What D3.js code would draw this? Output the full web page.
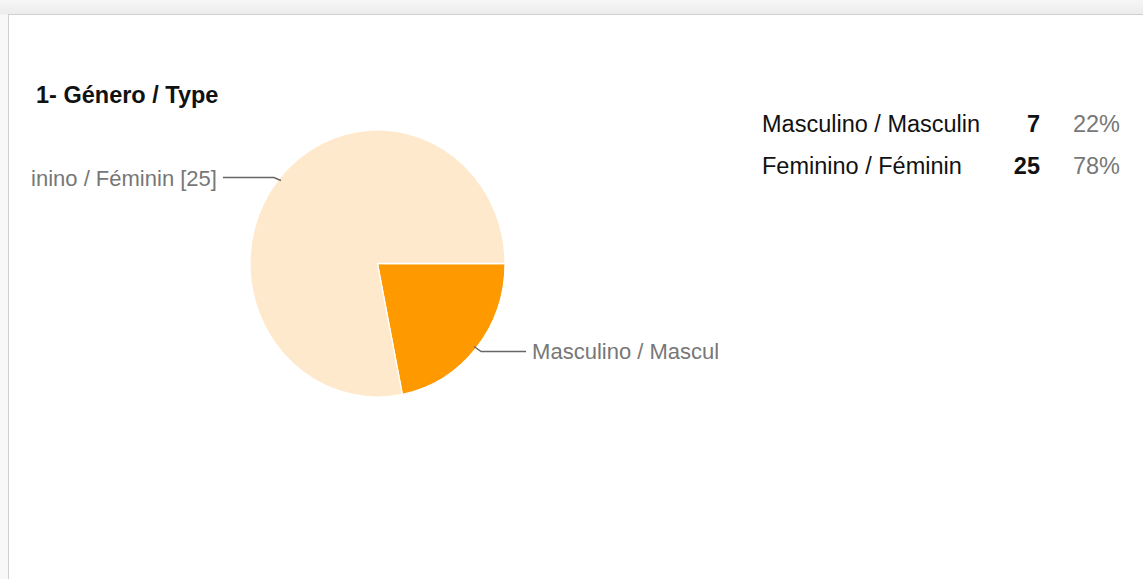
<!DOCTYPE html>
<html>
<head>
<meta charset="utf-8">
<script src="https://cdn.jsdelivr.net/npm/d3@7"></script>
<style>
  html, body { margin: 0; padding: 0; }
  body {
    width: 1143px; height: 579px; overflow: hidden;
    background: linear-gradient(#f6f6f6, #ececec 14px, #f8f8f8 15px, #f8f8f8);
    font-family: "Liberation Sans", Arial, sans-serif;
  }
  #panel {
    position: absolute; left: 8px; top: 14px; width: 1140px; height: 570px;
    background: #fff; border-left: 1px solid #cfcfcf; border-top: 1px solid #cfcfcf;
  }
  svg { position: absolute; left: 0; top: 0; }
</style>
</head>
<body>
<div id="panel"></div>
<svg id="chart" width="1143" height="579"></svg>
<script>
const chartTitle = "1- Género / Type";
const categories = ["Masculino / Masculin", "Feminino / Féminin"];
const counts = [7, 25];
const colors = ["#ff9900", "#ffe9cc"];

document.addEventListener('DOMContentLoaded', function(){
    drawChart();
});

function drawChart() {
    const svg = d3.select("#chart");
    const total = d3.sum(counts);
    const data = categories.map(function(c, i) { return {name: c, value: counts[i], color: colors[i]}; });

    // pie geometry (picture is slightly taller than wide)
    const cx = 377.5, cy = 263.5, rx = 127.5, ry = 133.5;

    svg.append('defs').append('clipPath').attr('id', 'plotClip')
        .append('rect').attr('x', 31).attr('y', 20).attr('width', 687).attr('height', 540);

    svg.append('text')
        .attr('x', 36).attr('y', 103)
        .style('font-size', '23.5px').style('font-weight', 'bold').attr('fill', '#111')
        .text(chartTitle);

    const pie = d3.pie().value(d => d.value).sort(null)
        .startAngle(Math.PI / 2).endAngle(Math.PI / 2 + 2 * Math.PI);
    const arcs = pie(data);
    const arc = d3.arc().innerRadius(0).outerRadius(rx);

    const g = svg.append('g').attr('transform', 'translate(' + cx + ',' + cy + ') scale(1,' + (ry / rx) + ')');
    g.selectAll('path').data(arcs).enter().append('path')
        .attr('d', arc)
        .attr('fill', d => d.data.color)
        .attr('stroke', '#fff').attr('stroke-width', 1.2);

    // leader lines + labels (clipped to the chart area like the original)
    const lab = svg.append('g').attr('clip-path', 'url(#plotClip)');
    arcs.forEach(function(d) {
        const a = (d.startAngle + d.endAngle) / 2;
        const ax = cx + Math.sin(a) * rx * 0.98;
        const ay = cy - Math.cos(a) * ry * 0.98;
        const dir = Math.sin(a) >= 0 ? 1 : -1;
        const ly = ay + (Math.cos(a) > 0 ? -3 : 5);
        const bx = ax + dir * 7;
        const endx = ax + dir * (dir < 0 ? 58 : 52);
        lab.append('path')
            .attr('d', 'M' + ax + ',' + ay + 'L' + bx + ',' + ly + 'L' + endx + ',' + ly)
            .attr('fill', 'none').attr('stroke', '#666').attr('stroke-width', 1.4);
        lab.append('text')
            .attr('x', endx + dir * 6).attr('y', ly + 8)
            .attr('text-anchor', dir > 0 ? 'start' : 'end')
            .style('font-size', '22px').attr('fill', '#777')
            .text(d.data.name + ' [' + d.data.value + ']');
    });

    // legend table
    const rows = svg.append('g').selectAll('g').data(data).enter().append('g')
        .attr('transform', (d, i) => 'translate(0,' + (132 + i * 42) + ')');
    rows.append('text').attr('x', 762).style('font-size', '23.5px').attr('fill', '#111')
        .text(d => d.name);
    rows.append('text').attr('x', 1040).attr('text-anchor', 'end')
        .style('font-size', '23.5px').style('font-weight', 'bold').attr('fill', '#111')
        .text(d => d.value);
    rows.append('text').attr('x', 1120).attr('text-anchor', 'end')
        .style('font-size', '23.5px').attr('fill', '#777')
        .text(d => Math.round(d.value / total * 100) + '%');
}
</script>
</body>
</html>
